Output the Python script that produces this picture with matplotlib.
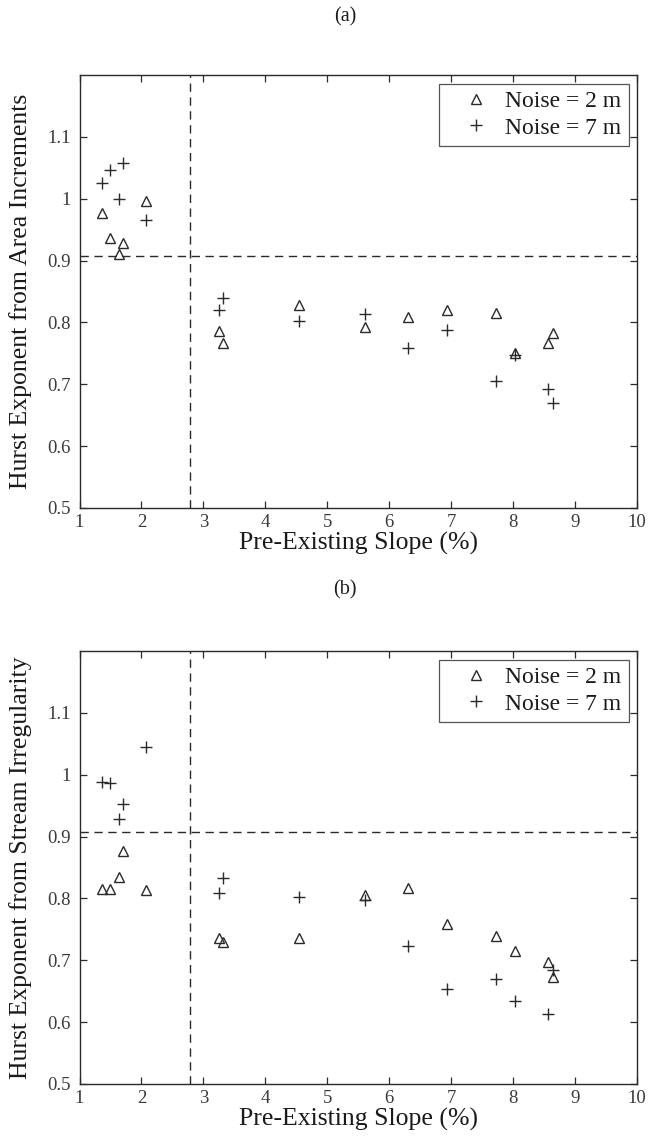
import matplotlib
matplotlib.use("Agg")
import matplotlib.pyplot as plt

plt.rcParams['font.family'] = ['Liberation Serif', 'DejaVu Serif']

# shared pre-existing slopes (%)
slope = [1.37, 1.49, 1.64, 1.71, 2.07, 3.26, 3.32, 4.55, 5.61, 6.31, 6.94, 7.72, 8.04, 8.57, 8.65]

# (a) Hurst exponent from area increments
area_noise2 = [0.977, 0.936, 0.910, 0.929, 0.997, 0.786, 0.767, 0.828, 0.792, 0.809, 0.820, 0.816, 0.751, 0.767, 0.783]
area_noise7 = [1.025, 1.047, 0.999, 1.057, 0.965, 0.820, 0.840, 0.802, 0.813, 0.758, 0.788, 0.705, 0.747, 0.693, 0.670]

# (b) Hurst exponent from stream irregularity
stream_noise2 = [0.815, 0.815, 0.835, 0.876, 0.813, 0.736, 0.730, 0.736, 0.805, 0.817, 0.758, 0.739, 0.715, 0.697, 0.673]
stream_noise7 = [0.988, 0.986, 0.928, 0.952, 1.045, 0.809, 0.833, 0.802, 0.798, 0.723, 0.653, 0.669, 0.634, 0.613, 0.685]

threshold_slope = 2.79
threshold_hurst = 0.908

xticks = [1, 2, 3, 4, 5, 6, 7, 8, 9, 10]
yticks = [0.5, 0.6, 0.7, 0.8, 0.9, 1.0, 1.1]
ytick_labels = ['0.5', '0.6', '0.7', '0.8', '0.9', '1', '1.1']
legend_labels = ['Noise = 2 m', 'Noise = 7 m']
xlabel = 'Pre-Existing Slope (%)'
ylabels = ['Hurst Exponent from Area Increments', 'Hurst Exponent from Stream Irregularity']
panel_tags = ['(a)', '(b)']

W, H = 649, 1145
fig = plt.figure(figsize=(W / 100, H / 100), dpi=100)
fig.patch.set_facecolor('white')

ink = '#2a2a2a'
ax_left = 79.5 / W
ax_w = (636.7 - 79.5) / W
ax_h = 433 / H
bottoms = [(H - 508) / H, (H - 1084) / H]
tag_y = [1 - 17 / H, 1 - 590 / H]

for i, (y2, y7) in enumerate([(area_noise2, area_noise7), (stream_noise2, stream_noise7)]):
    ax = fig.add_axes([ax_left, bottoms[i], ax_w, ax_h])
    ax.plot(slope, y2, linestyle='none', marker='^', markersize=7.5,
            markerfacecolor='none', markeredgecolor=ink, markeredgewidth=1.0,
            label=legend_labels[0])
    ax.plot(slope, y7, linestyle='none', marker='+', markersize=8.5,
            color=ink, markeredgewidth=1.0, label=legend_labels[1])
    ax.axvline(threshold_slope, color=ink, linestyle=(0, (6, 4)), linewidth=1.0)
    ax.axhline(threshold_hurst, color=ink, linestyle=(0, (6, 4)), linewidth=1.0)
    ax.set_xlim(1, 10)
    ax.set_ylim(0.5, 1.2)
    ax.set_xticks(xticks)
    ax.set_xticklabels([str(t) for t in xticks])
    ax.set_yticks(yticks)
    ax.set_yticklabels(ytick_labels)
    ax.tick_params(direction='in', top=True, right=True, length=5, width=0.9,
                   color=ink, labelsize=13.5, labelcolor='#3a3a3a')
    ax.tick_params(axis='x', pad=4)
    ax.tick_params(axis='y', pad=6.5)
    for s in ax.spines.values():
        s.set_color(ink)
        s.set_linewidth(1.0)
    ax.set_xlabel(xlabel, fontsize=18.5, color='#1a1a1a', labelpad=1)
    ax.set_ylabel(ylabels[i], fontsize=18.5, color='#1a1a1a')
    ax.yaxis.set_label_coords(-0.085, 0.5)
    leg = ax.legend(loc='upper right', fontsize=17, frameon=True, fancybox=False,
                    edgecolor=ink, handlelength=2.5, handletextpad=0.0,
                    borderpad=0.3, labelspacing=0.2, borderaxespad=0.0,
                    bbox_to_anchor=(0.9856, 0.980))
    leg.get_frame().set_linewidth(0.9)
    for t in leg.get_texts():
        t.set_color('#1a1a1a')
    fig.text(345 / W, tag_y[i], panel_tags[i], ha='center', va='center',
             fontsize=14.5, color='#1a1a1a')

fig.savefig('out.png', dpi=100, facecolor='white')
